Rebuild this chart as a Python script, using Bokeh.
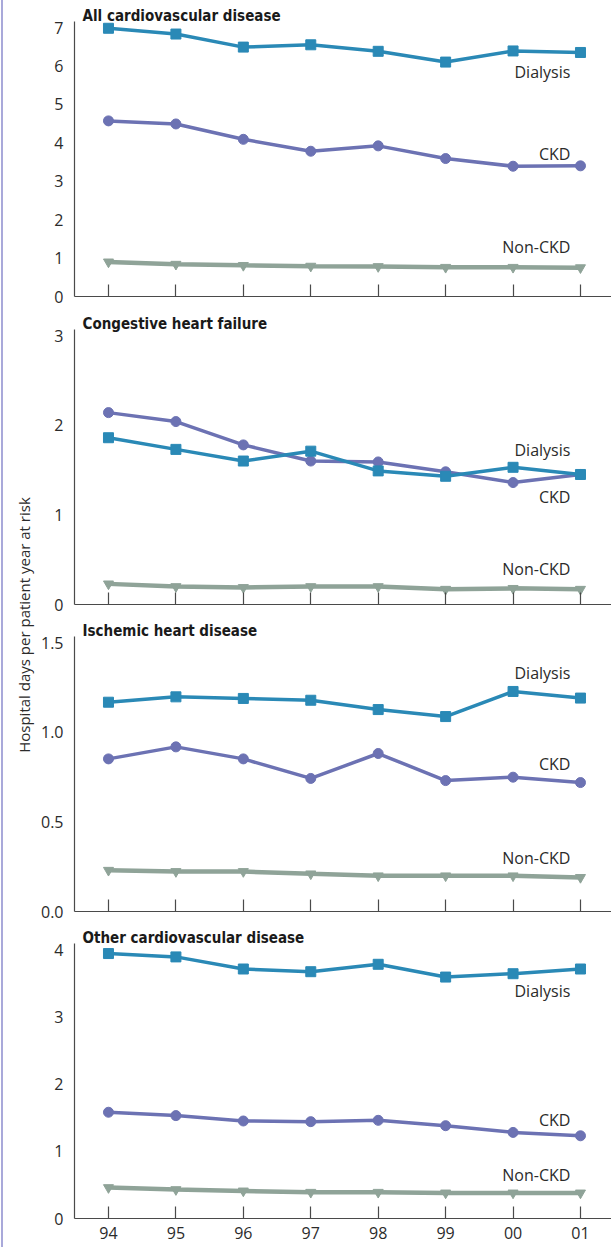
from bokeh.plotting import figure
from bokeh.models import Range1d, FixedTicker, Div, CustomLabelingPolicy
from bokeh.layouts import row, column
from bokeh.core.properties import value
from bokeh.embed import file_html
from bokeh.resources import INLINE

# ---- data ----
years = ["94", "95", "96", "97", "98", "99", "00", "01"]
xs = list(range(len(years)))

all_dialysis = [6.98, 6.83, 6.49, 6.55, 6.38, 6.10, 6.39, 6.35]
all_ckd = [4.57, 4.49, 4.09, 3.78, 3.92, 3.59, 3.39, 3.40]
all_nonckd = [0.90, 0.84, 0.81, 0.79, 0.78, 0.76, 0.76, 0.75]

chf_dialysis = [1.86, 1.73, 1.60, 1.71, 1.49, 1.43, 1.53, 1.45]
chf_ckd = [2.14, 2.04, 1.78, 1.60, 1.59, 1.48, 1.36, 1.45]
chf_nonckd = [0.23, 0.20, 0.19, 0.20, 0.20, 0.17, 0.18, 0.17]

ihd_dialysis = [1.167, 1.197, 1.188, 1.178, 1.126, 1.087, 1.227, 1.19]
ihd_ckd = [0.851, 0.918, 0.851, 0.742, 0.881, 0.730, 0.749, 0.719]
ihd_nonckd = [0.23, 0.223, 0.223, 0.21, 0.199, 0.199, 0.199, 0.19]

oth_dialysis = [3.94, 3.89, 3.71, 3.67, 3.78, 3.59, 3.64, 3.71]
oth_ckd = [1.58, 1.53, 1.45, 1.44, 1.46, 1.38, 1.28, 1.23]
oth_nonckd = [0.46, 0.43, 0.41, 0.39, 0.39, 0.38, 0.38, 0.38]

titles = ["All cardiovascular disease", "Congestive heart failure",
          "Ischemic heart disease", "Other cardiovascular disease"]
y_ticks = [[0, 1, 2, 3, 4, 5, 6, 7], [0, 1, 2, 3], [0, 0.5, 1.0, 1.5], [0, 1, 2, 3, 4]]
y_tick_labels = [["0", "1", "2", "3", "4", "5", "6", "7"], ["0", "1", "2", "3"],
                 ["0.0", "0.5", "1.0", "1.5"], ["0", "1", "2", "3", "4"]]
y_max = [7, 3, 1.5, 4]
series_names = ["Dialysis", "CKD", "Non-CKD"]
label_y = [[5.85, 3.71, 1.28], [1.72, 1.20, 0.40], [1.33, 0.82, 0.30], [3.39, 1.46, 0.64]]
label_x = 6.85
ylabel = "Hospital days per patient year at risk"

# ---- style ----
C_DIAL = "#2a89b6"
C_CKD = "#6c72b3"
C_NON = "#8fa398"
AX = "#4a4a4a"
TXT = "#2b2b2b"
FONT = "Open Sans"
TFONT = "'Liberation Sans Narrow', 'DejaVu Sans Condensed', sans-serif"
FH = 275
FW = 537

borders = [(21, 14), (19, 13), (19, 12), (20, 29)]
data = [(all_dialysis, all_ckd, all_nonckd), (chf_dialysis, chf_ckd, chf_nonckd),
        (ihd_dialysis, ihd_ckd, ihd_nonckd), (oth_dialysis, oth_ckd, oth_nonckd)]

hide_all = CustomLabelingPolicy(code="""
for (const i of indices) { indices.unset(i) }
return indices
""")

figs = []
for i in range(4):
    top = y_max[i] * FH / 269.0
    bt, bb = borders[i]
    p = figure(frame_width=FW, frame_height=FH, x_range=Range1d(-0.504, 7.46),
               y_range=Range1d(0, top), output_backend="svg", toolbar_location=None,
               min_border_left=40, min_border_right=0, min_border_top=bt,
               min_border_bottom=bb, outline_line_color=None, margin=0)
    p.grid.visible = False
    p.title.text = titles[i]
    p.title.align = "left"
    p.title.offset = 8
    p.title.text_font = TFONT
    p.title.text_font_size = "15px"
    p.title.text_font_style = "bold"
    p.title.text_color = "#1a1a1a"
    p.title.standoff = -6

    xa = p.xaxis[0]
    xa.ticker = FixedTicker(ticks=xs)
    xa.major_label_overrides = {x: y for x, y in zip(xs, years)}
    xa.major_tick_in = 12
    xa.major_tick_out = 0
    xa.minor_tick_line_color = None
    xa.axis_line_color = AX
    xa.major_tick_line_color = AX
    xa.axis_line_width = 1.2
    xa.major_tick_line_width = 1.2
    xa.major_label_text_font = FONT
    xa.major_label_text_color = TXT
    if i < 3:
        xa.major_label_text_font_size = "1px"
        xa.major_label_standoff = 0
        xa.major_label_policy = hide_all
    else:
        xa.major_label_text_font_size = "16px"
        xa.major_label_standoff = 8

    ya = p.yaxis[0]
    ya.ticker = FixedTicker(ticks=y_ticks[i])
    ya.major_label_overrides = {t: l for t, l in zip(y_ticks[i], y_tick_labels[i])}
    ya.major_tick_in = 0
    ya.major_tick_out = 0
    ya.minor_tick_line_color = None
    ya.axis_line_color = AX
    ya.axis_line_width = 1.2
    ya.major_label_text_font = FONT
    ya.major_label_text_font_size = "16px"
    ya.major_label_text_color = TXT
    ya.major_label_standoff = 11

    d, c, n = data[i]
    p.line(xs, n, line_color=C_NON, line_width=4.5)
    p.scatter(xs, n, marker="inverted_triangle", size=10, fill_color=C_NON, line_color=C_NON)
    p.line(xs, c, line_color=C_CKD, line_width=3.5)
    p.scatter(xs, c, marker="circle", size=10, fill_color=C_CKD, line_color=C_CKD)
    p.line(xs, d, line_color=C_DIAL, line_width=3.5)
    p.scatter(xs, d, marker="square", size=10, fill_color=C_DIAL, line_color=C_DIAL)

    p.text(x=[label_x] * 3, y=label_y[i], text=series_names, text_align="right",
           text_baseline="middle", text_font=value(FONT), text_font_size="16px",
           text_color=TXT)
    figs.append(p)

div_html = (
    '<div style="position:relative;width:34px;height:1247px;">'
    '<div style="position:absolute;left:1px;top:0;width:2px;height:1247px;background:#a9a9da;"></div>'
    '<div style="position:absolute;left:25px;top:625px;transform:translate(-50%,-50%) rotate(-90deg);'
    'white-space:nowrap;font-family:\'Open Sans\';font-size:15px;color:#2b2b2b;">'
    + ylabel + '</div></div>'
)
label_div = Div(text=div_html, width=34, height=1247, margin=0)

layout = row(label_div, column(*figs, margin=0, spacing=0), margin=0, spacing=0)
open("out.html", "w").write(file_html(layout, INLINE))
